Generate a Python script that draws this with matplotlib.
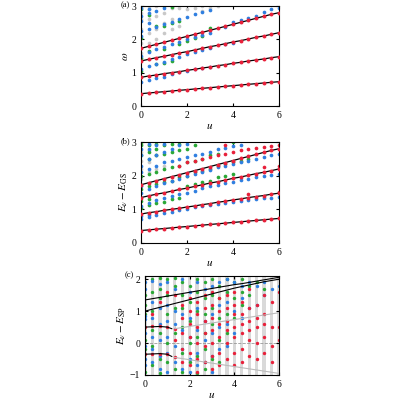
import matplotlib

matplotlib.use("Agg")
import matplotlib.pyplot as plt

plt.rcParams["font.family"] = ["Liberation Serif", "DejaVu Serif"]
plt.rcParams["mathtext.fontset"] = "stix"

RED = "#e8203a"
BLUE = "#2f7fe0"
GREEN = "#2aa836"
GREY = "#c8c8c8"

u = [0, 0.33, 0.67, 1.0, 1.33, 1.67, 2.0, 2.33, 2.67, 3.0, 3.33, 3.67, 4.0, 4.33,
     4.67, 5.0, 5.33, 5.67, 6.0]

level0 = [0.37, 0.39, 0.41, 0.43, 0.45, 0.47, 0.49, 0.51, 0.53, 0.55, 0.57, 0.59,
          0.61, 0.63, 0.65, 0.67, 0.69, 0.71, 0.73]
level1 = [0.86, 0.90, 0.93, 0.97, 1.00, 1.03, 1.07, 1.10, 1.14, 1.17, 1.21, 1.24,
          1.28, 1.31, 1.35, 1.38, 1.41, 1.45, 1.48]
level2 = [1.35, 1.40, 1.45, 1.49, 1.54, 1.59, 1.63, 1.68, 1.73, 1.78, 1.82, 1.87,
          1.92, 1.96, 2.01, 2.06, 2.10, 2.15, 2.20]
level3 = [1.73, 1.79, 1.85, 1.91, 1.97, 2.03, 2.09, 2.15, 2.21, 2.27, 2.33, 2.39,
          2.45, 2.51, 2.57, 2.63, 2.69, 2.75, 2.80]
levels = [level0, level1, level2, level3]

# panel (a) extra points, one list per u value
a_blue = [[0.72, 1.12, 1.5, 2.1, 2.25, 2.55, 2.7, 2.95],
          [0.77, 1.2, 1.62, 2.3, 2.5, 2.78, 2.9],
          [0.83, 1.27, 1.7, 2.38, 2.85],
          [0.88, 1.33, 1.77, 2.45, 2.93],
          [0.95, 1.4, 1.85, 2.52],
          [1.02, 1.47, 1.93, 2.6],
          [1.06, 1.55, 2.0, 2.68],
          [1.1, 1.62, 2.07, 2.76],
          [1.14, 1.68, 2.14, 2.82],
          [1.17, 1.75, 2.2, 2.87],
          [], [1.85, 2.38], [1.9, 2.52], [2.58], [2.65], [2.7], [2.82], [2.9], [2.95]]
a_green = [[1.05, 1.45, 2.05, 2.9], [1.65, 2.72], [1.25, 2.4],
           [1.3, 1.72, 2.4, 3.0], [1.35, 2.48, 2.98], [1.85, 2.55], [1.95], [2.05],
           [2.1], [2.33], [], [], [], [], [], [], [], [], []]
a_grey = [[1.6, 1.9, 2.3, 2.6, 2.8, 3.0], [1.9, 2.2, 2.6, 2.9, 3.0], [2.0, 2.3, 2.7, 3.0],
          [2.2, 2.5, 2.8], [2.3, 2.6, 2.95], [2.4, 2.95], [2.9], [2.95], [2.85, 3.0],
          [2.95], [3.0], [], [], [], [], [], [], [], []]

# panel (b) extra points
b_blue = [[0.72, 0.8, 1.1, 1.5, 1.7, 2.1, 2.3, 2.6, 2.8],
          [0.77, 0.82, 1.2, 1.6, 2.2, 2.5, 2.8, 2.95],
          [0.82, 1.27, 1.7, 2.3, 2.6, 2.9], [0.88, 1.33, 1.77, 2.4, 2.7, 2.95],
          [0.93, 1.4, 1.85, 2.45, 2.8], [0.98, 1.45, 1.9, 2.5, 2.9],
          [1.02, 1.5, 2.0, 2.55, 2.95], [1.06, 1.55, 2.05, 2.6], [1.1, 1.62, 2.1, 2.65],
          [1.13, 1.68, 2.18, 2.7], [1.16, 1.72, 2.25, 2.78], [1.2, 1.78, 2.3, 2.82],
          [1.23, 1.82, 2.35, 2.88], [1.25, 1.86, 2.4, 2.92], [1.28, 1.9, 2.45],
          [1.3, 1.95, 2.5], [1.33, 1.98, 2.55], [1.35, 2.02, 2.6], [1.37, 2.05, 2.65]]
b_green = [[1.05, 1.25, 1.6, 2.0, 2.6, 2.9, 3.0], [1.12, 1.3, 1.7, 2.05, 2.5, 2.7, 2.9],
           [1.18, 1.75, 2.1, 2.6, 2.8, 2.95], [1.22, 1.8, 2.2, 2.65, 2.9],
           [1.3, 1.85, 2.25, 2.7, 2.95], [1.35, 1.95, 2.3, 2.75, 2.95],
           [1.7, 2.0, 2.4, 2.8], [1.75, 2.1, 2.45, 2.9], [1.8, 2.15, 2.5],
           [1.85, 2.2, 2.6], [1.95, 2.3, 2.65], [2.0, 2.35], [2.05, 2.4, 3.0],
           [2.45], [2.5], [], [], [], []]
b_red = [[], [], [], [], [], [2.3], [2.4], [2.45], [2.5], [2.55], [2.6], [2.65, 2.9],
         [2.7], [2.75], [2.8, 1.45], [2.82], [2.85, 2.25], [2.88], [2.9, 1.52, 2.3]]
b_grey = [[1.9, 2.2, 2.45, 2.7, 2.95], [2.1, 2.4, 2.75], [2.2, 2.6], [2.3], [], [], [], [],
          [], [], [], [], [], [], [], [], [], [], []]

# panel (c)
c_top1 = [1.35, 1.39, 1.43, 1.47, 1.51, 1.55, 1.59, 1.63, 1.67, 1.71, 1.75, 1.79,
          1.83, 1.86, 1.9, 1.94, 1.98, 2.02, 2.06]
c_top2 = [1.0, 1.06, 1.12, 1.18, 1.24, 1.3, 1.36, 1.42, 1.48, 1.54, 1.6, 1.66,
          1.72, 1.77, 1.82, 1.87, 1.92, 1.96, 2.0]
c_mid_u = [0, 0.33, 0.67, 1.0, 1.2]
c_mid_hi = [0.5, 0.51, 0.52, 0.5, 0.45]
c_mid_lo = [-0.35, -0.34, -0.33, -0.35, -0.42]
c_grey_u = [1.33, 6.0]
c_grey_hi = [0.45, 0.95]
c_grey_lo = [-0.45, -0.95]

c_red = [[0.5, -0.35], [0.52, -0.34, 0.9], [0.52, -0.33, 1.3], [0.5, -0.35, 1.6],
         [0.45, 1.5, -0.45, 0.1], [1.2, 0.8, 0.3, -0.2, -0.6],
         [1.4, 1.0, 0.6, 0.2, -0.3, -0.7], [1.3, 0.9, 0.5, 0.0, -0.5, -0.9],
         [1.5, 1.1, 0.7, 0.3, -0.1, -0.6], [1.6, 1.2, 0.8, 0.4, 0.0, -0.4, -0.8],
         [1.4, 1.0, 0.6, 0.2, -0.3, -0.7], [1.5, 1.1, 0.7, 0.4, 0.0, -0.5],
         [1.6, 1.2, 0.9, 0.5, 0.2, -0.3, -0.7], [1.3, 0.9, 0.6, 0.3, -0.2, -0.6],
         [1.7, 1.1, 0.7, 0.4, 0.1, -0.4], [1.2, 0.8, 0.5, 0.0, -0.5],
         [1.5, 0.9, 0.6, 0.2, -0.3], [1.3, 0.5, -0.1, -0.6], [1.6, 0.5, 0.1]]
c_blue = [[1.9, 1.7, 0.85, 0.75, 0.3, -0.1, -0.5, -0.7],
          [1.95, 1.3, 0.8, 0.2, -0.2, -0.6], [1.85, 1.1, 0.6, 0.1, -0.4, -0.8],
          [1.9, 1.2, 0.7, 0.2, -0.3, -0.9], [1.7, 1.0, 0.6, -0.1, -0.6],
          [2.0, 0.9, 0.4, -0.2, -0.8], [1.6, 0.8, 0.2, -0.5, -0.9],
          [1.9, 1.1, 0.4, -0.3, -0.7], [1.7, 0.7, 0.1, -0.6], [1.8, 0.9, 0.3, -0.4, -0.9],
          [1.9, 1.2, 0.5, -0.2], [2.0, 1.3, 0.6, -0.1], [1.9, 1.0, 0.3],
          [1.8, 1.4, 0.8], [1.9, 1.1], [1.8, 1.2], [1.9, 1.5], [1.7], [1.8]]
c_green = [[1.5, 1.2, 0.9, 0.1, -0.2, -0.9], [2.0, 1.6, 1.0, 0.4, -0.1, -0.7],
           [2.05, 1.7, 1.4, 0.3, -0.5, -0.95], [2.0, 1.5, 0.9, 0.0, -0.6],
           [2.05, 1.8, 1.1, 0.3, -0.8], [1.9, 1.5, 1.1, 0.5, -0.3, -0.9],
           [1.8, 1.3, 0.7, 0.0, -0.6], [2.0, 1.6, 1.0, 0.2, -0.4, -0.95],
           [1.9, 1.4, 0.9, 0.3, -0.2, -0.8], [2.0, 1.5, 1.1, 0.6, -0.5],
           [1.8, 1.4, 0.8, 0.1, -0.6], [2.0, 1.6, 0.9, 0.3], [1.9, 1.4, 0.8],
           [2.0, 1.6, 1.2], [1.8, 1.5], [1.9], [1.7], [], []]


def scatter_lists(ax, lists, color, size=7):
    for x, ys in zip(u, lists):
        ax.scatter([x] * len(ys), ys, s=size, color=color, lw=0, zorder=2)


def style(ax, ylabel, tag, ylim, yticks):
    ax.set_xlim(0, 6)
    ax.set_ylim(*ylim)
    ax.set_xticks([0, 2, 4, 6])
    ax.set_yticks(yticks)
    ax.tick_params(direction="in", top=True, right=True, labelsize=7, length=2.5)
    ax.set_ylabel(ylabel, fontsize=8, labelpad=1)
    ax.set_xlabel(r"$u$", fontsize=8, labelpad=1)
    ax.text(-0.15, 1.05, tag, transform=ax.transAxes, fontsize=6, ha="left", va="top")


fig = plt.figure(figsize=(4, 4), dpi=100)

ax_a = fig.add_axes([0.3525, 0.735, 0.345, 0.25])
scatter_lists(ax_a, a_grey, GREY)
scatter_lists(ax_a, a_green, GREEN)
scatter_lists(ax_a, a_blue, BLUE)
for lv in levels:
    ax_a.plot(u, lv, color="black", lw=0.9, zorder=3)
    ax_a.scatter(u, lv, s=8, color=RED, lw=0, zorder=4)
style(ax_a, r"$\omega$", "(a)", (0, 3), [0, 1, 2, 3])

ax_b = fig.add_axes([0.3525, 0.3925, 0.345, 0.2525])
scatter_lists(ax_b, b_grey, GREY)
scatter_lists(ax_b, b_green, GREEN)
scatter_lists(ax_b, b_blue, BLUE)
scatter_lists(ax_b, b_red, RED)
for lv in levels:
    ax_b.plot(u, lv, color="black", lw=0.9, zorder=3)
    ax_b.scatter(u, lv, s=8, color=RED, lw=0, zorder=4)
style(ax_b, r"$E_\nu - E_{\rm GS}$", "(b)", (0, 3), [0, 1, 2, 3])

ax_c = fig.add_axes([0.3625, 0.0625, 0.335, 0.2475])
for x in u:
    ax_c.axvspan(x - 0.07, x + 0.07, color="#d9d9d9", lw=0, zorder=0)
ax_c.axhline(0, color="#999999", lw=0.6, ls="--", zorder=1)
scatter_lists(ax_c, c_green, GREEN, 6)
scatter_lists(ax_c, c_blue, BLUE, 6)
scatter_lists(ax_c, c_red, RED, 6)
ax_c.plot(u, c_top1, color="black", lw=0.8, zorder=3)
ax_c.plot(u, c_top2, color="black", lw=0.8, zorder=3)
ax_c.plot(c_mid_u, c_mid_hi, color="black", lw=0.8, zorder=3)
ax_c.plot(c_mid_u, c_mid_lo, color="black", lw=0.8, zorder=3)
ax_c.plot(c_grey_u, c_grey_hi, color="#bbbbbb", lw=0.8, zorder=3)
ax_c.plot(c_grey_u, c_grey_lo, color="#bbbbbb", lw=0.8, zorder=3)
style(ax_c, r"$E_\nu - E_{\rm SP}$", "(c)", (-1, 2.1), [-1, 0, 1, 2])

fig.savefig("out.png", dpi=100)
